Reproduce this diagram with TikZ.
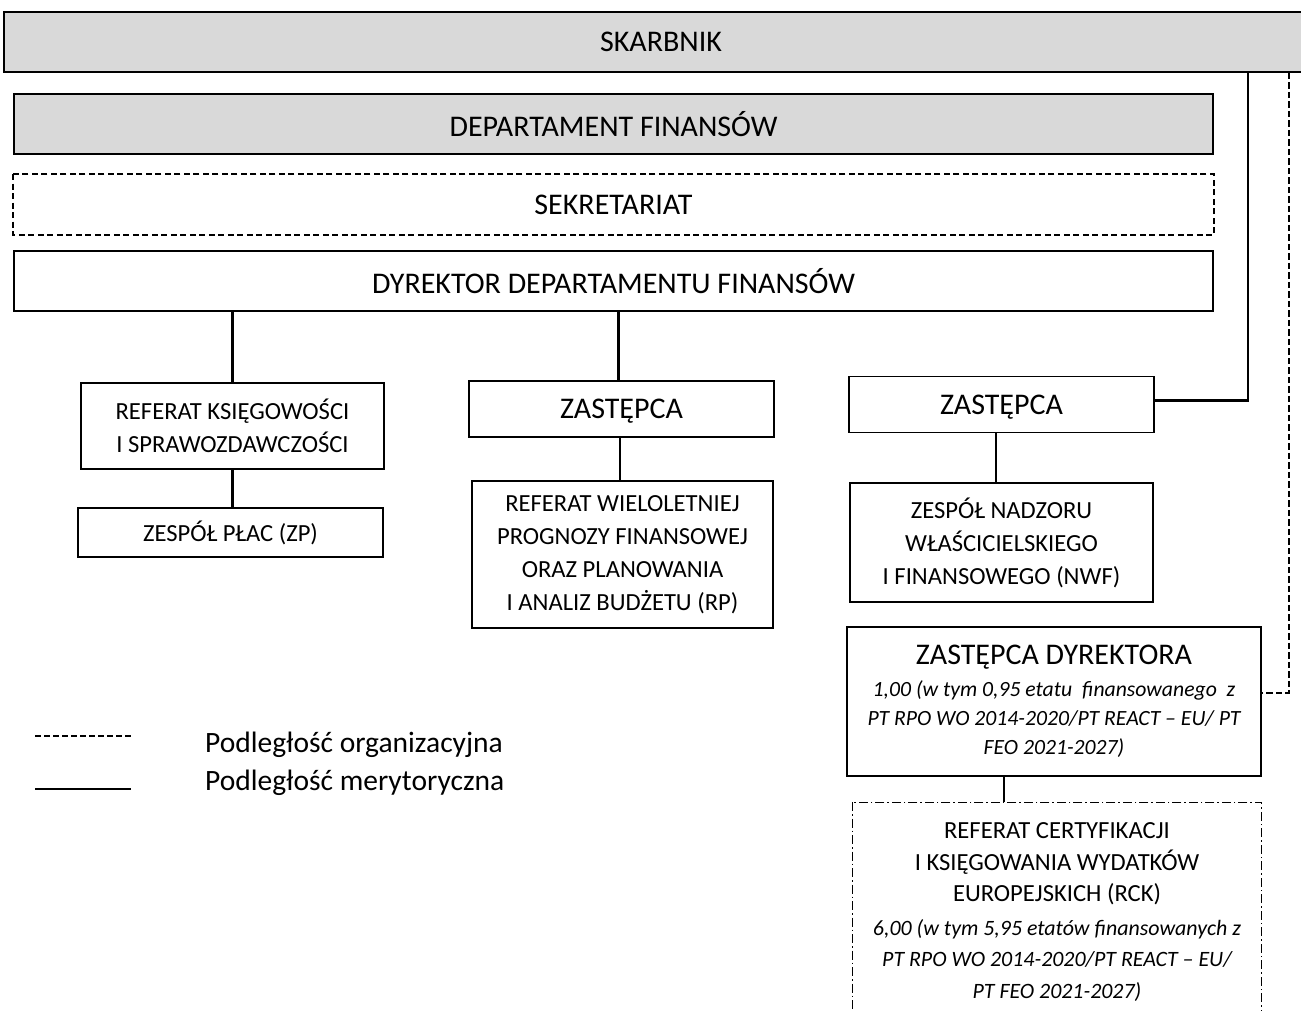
\documentclass[tikz,border=0pt]{standalone}
\usepackage{fontspec}
\setmainfont{Carlito}
\definecolor{boxgray}{HTML}{D9D9D9}
\newcommand\zdtitle{\fontsize{30}{30}\selectfont}
\newcommand\zdital{\itshape\fontsize{21.7}{29}\selectfont}
\newcommand\rckital{\itshape\fontsize{21.9}{31.5}\selectfont}
\begin{document}
\begin{tikzpicture}[x=1pt,y=-1pt,
  box/.style={draw=black,line width=1.8pt,rectangle,inner sep=0pt,align=center},
  bigtxt/.style={font=\fontsize{30}{34}\selectfont},
  smalltxt/.style={font=\fontsize{24.6}{33}\selectfont},
  conn/.style={line width=2.6pt},
  orgconn/.style={line width=2.4pt,dash pattern=on 6.5pt off 3pt},
  legtxt/.style={font=\fontsize{29.5}{34}\selectfont,anchor=base west,inner sep=0pt}
]
\clip (0,0) rectangle (1301,1010);
\fill[white] (0,0) rectangle (1301,1010);

% top boxes
\node[box,fill=boxgray,bigtxt,minimum width=1314pt,minimum height=60pt] (skarb) at (661,42) {SKARBNIK};
\node[box,fill=boxgray,bigtxt,minimum width=1199pt,minimum height=60pt] (dept) at (613.5,124) {DEPARTAMENT FINANSÓW};
\node[box,draw=none,bigtxt,minimum width=1199pt,minimum height=59pt] (sek) at (613.5,204.5) {SEKRETARIAT};
\draw[line width=1.6pt,dash pattern=on 6pt off 3.5pt] (sek.north west) rectangle (sek.south east);
\node[box,bigtxt,minimum width=1199pt,minimum height=60pt] (dyr) at (613.5,281) {DYREKTOR DEPARTAMENTU FINANSÓW};

% left branch
\node[box,smalltxt,minimum width=303pt,minimum height=86pt] (ksieg) at (232.5,426) {REFERAT KSIĘGOWOŚCI\\I SPRAWOZDAWCZOŚCI};
\node[box,smalltxt,minimum width=305pt,minimum height=49pt] (zp) at (230.5,532.5) {ZESPÓŁ PŁAC (ZP)};

% middle branch
\node[box,bigtxt,text depth=0pt,minimum width=305pt,minimum height=56pt] (zast1) at (621.5,409) {ZASTĘPCA};
\node[box,smalltxt,minimum width=301pt,minimum height=147pt] (rp) at (622.5,554.5) {REFERAT WIELOLETNIEJ\\PROGNOZY FINANSOWEJ\\ORAZ PLANOWANIA\\I ANALIZ BUDŻETU (RP)};

% right branch
\node[box,bigtxt,text depth=0pt,minimum width=305pt,minimum height=56pt] (zast2) at (1001.5,404.5) {ZASTĘPCA};
\node[box,smalltxt,minimum width=303pt,minimum height=119pt] (nwf) at (1001.5,542.5) {ZESPÓŁ NADZORU\\WŁAŚCICIELSKIEGO\\I FINANSOWEGO (NWF)};

\node[box,minimum width=414pt,minimum height=149pt,
      font=\fontsize{21.7}{29}\selectfont] (zd) at (1054,701.5)
  {\zdtitle ZASTĘPCA DYREKTORA\\[3pt]
   \zdital 1,00 (w tym 0,95 etatu~ finansowanego~ z\\
   \zdital PT RPO WO 2014-2020/PT REACT -- EU/ PT\\
   \zdital FEO 2021-2027)};

\node[box,draw=none,minimum width=408pt,minimum height=212pt,
      font=\fontsize{24.6}{31.5}\selectfont] (rck) at (1057,912)
  {REFERAT CERTYFIKACJI\\
   I KSIĘGOWANIA WYDATKÓW\\
   EUROPEJSKICH (RCK)\\[2pt]
   \rckital 6,00 (w tym 5,95 etatów finansowanych z\\
   \rckital PT RPO WO 2014-2020/PT REACT -- EU/\\
   \rckital PT FEO 2021-2027)};
\draw[line width=0.9pt,dash pattern=on 9pt off 3pt on 1.5pt off 3pt] ([yshift=3pt]rck.north west) rectangle (rck.south east);

% connectors
\draw[conn] (dyr.south -| ksieg.north) -- (ksieg.north);
\draw[conn] (ksieg.south) -- (ksieg.south |- zp.north);
\draw[conn] ([xshift=-3pt]dyr.south -| zast1.north) -- ([xshift=-3pt]zast1.north);
\draw[conn] ([xshift=-1.5pt]zast1.south) -- ([xshift=-1.5pt]zast1.south |- rp.north);
\draw[conn] ([xshift=-5.5pt]zast2.south) -- ([xshift=-5.5pt]zast2.south |- nwf.north);
\draw[conn] ([xshift=-50pt]zd.south) -- ([xshift=-50pt,yshift=3pt]zd.south |- rck.north);

\coordinate (j1) at (1248,0);
\coordinate (j2) at (1289,0);
\draw[conn] (skarb.south -| j1) |- ([yshift=4pt]zast2.east);
\draw[orgconn] (skarb.south -| j2) |- ([yshift=8.5pt]zd.east);

% legend
\coordinate (la1) at (35,736);
\coordinate (la2) at (131,736);
\coordinate (lb1) at (35,789);
\coordinate (lb2) at (131,789);
\draw[line width=1.2pt,dash pattern=on 6pt off 3pt] (la1) -- (la2);
\draw[line width=2.2pt] (lb1) -- (lb2);
\node[legtxt] (leg1) at (205,752) {Podległość organizacyjna};
\node[legtxt] (leg2) at (205,790) {Podległość merytoryczna};
\end{tikzpicture}
\end{document}
